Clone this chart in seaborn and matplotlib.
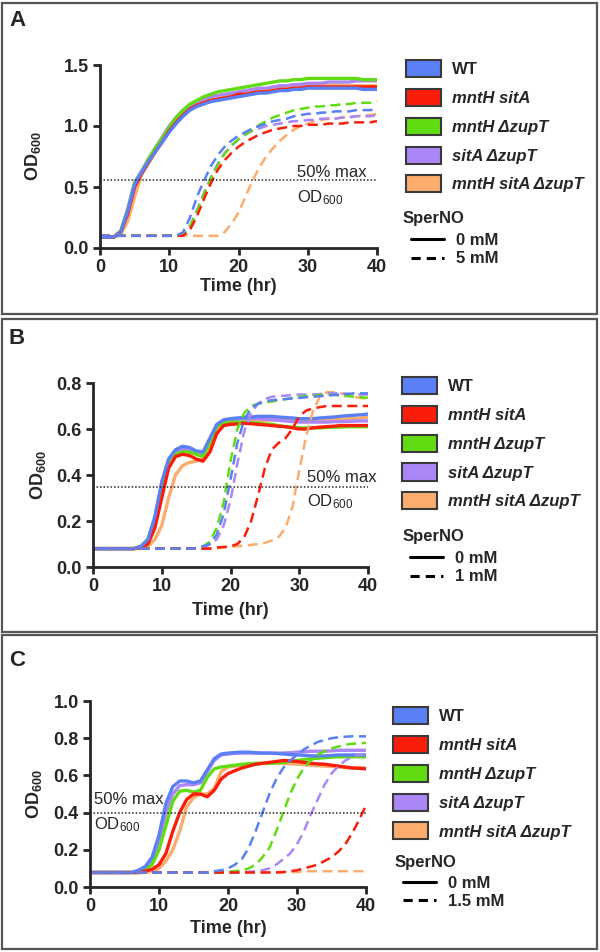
import numpy as np
import pandas as pd
import seaborn as sns
import matplotlib.pyplot as plt
from matplotlib.patches import Patch, Rectangle
from matplotlib.lines import Line2D

sns.set_style("ticks")
plt.rcParams["font.family"] = ["Liberation Sans", "DejaVu Sans"]
plt.rcParams["mathtext.fontset"] = "custom"
plt.rcParams["mathtext.rm"] = "Liberation Sans"
plt.rcParams["mathtext.bf"] = "Liberation Sans:bold"
plt.rcParams["mathtext.it"] = "Liberation Sans:italic"

# strains and colours
strains = ["WT", "mntH sitA", "mntH ΔzupT", "sitA ΔzupT", "mntH sitA ΔzupT"]
colors = ["#5b80f5", "#fa1e0a", "#62dc12", "#aa86f6", "#fcac6c"]
palette = dict(zip(strains, colors))

hours = np.arange(0, 41)  # sampled every hour, 0-40 h

# ---- Panel A: 0 mM / 5 mM SperNO ----
a0_wt = [.09, .09, .09, .13, .30, .52, .62, .71, .79, .87, .95, 1.02, 1.08, 1.13, 1.16, 1.18, 1.20, 1.21, 1.22, 1.23, 1.24,
         1.25, 1.26, 1.27, 1.27, 1.28, 1.29, 1.29, 1.30, 1.30, 1.31, 1.31, 1.31, 1.31, 1.31, 1.31, 1.31, 1.31, 1.30, 1.30, 1.30]
a0_ms = [.09, .09, .09, .13, .28, .50, .61, .70, .79, .87, .96, 1.03, 1.09, 1.14, 1.17, 1.19, 1.21, 1.22, 1.23, 1.24, 1.26,
         1.26, 1.27, 1.28, 1.28, 1.29, 1.30, 1.30, 1.31, 1.31, 1.32, 1.32, 1.32, 1.32, 1.32, 1.32, 1.32, 1.32, 1.32, 1.32, 1.32]
a0_mz = [.09, .09, .09, .14, .31, .53, .62, .73, .82, .90, .99, 1.07, 1.13, 1.18, 1.21, 1.24, 1.26, 1.28, 1.29, 1.30, 1.31,
         1.32, 1.33, 1.34, 1.35, 1.36, 1.37, 1.37, 1.38, 1.38, 1.39, 1.39, 1.39, 1.39, 1.39, 1.39, 1.39, 1.39, 1.38, 1.38, 1.38]
a0_sz = [.09, .09, .09, .14, .32, .54, .63, .73, .82, .91, 1.00, 1.07, 1.13, 1.17, 1.20, 1.22, 1.24, 1.25, 1.26, 1.27, 1.28,
         1.29, 1.30, 1.31, 1.31, 1.32, 1.33, 1.33, 1.34, 1.34, 1.35, 1.35, 1.35, 1.36, 1.36, 1.36, 1.36, 1.37, 1.37, 1.37, 1.37]
a0_msz = [.09, .09, .09, .11, .22, .42, .60, .70, .79, .88, .96, 1.04, 1.10, 1.14, 1.17, 1.20, 1.21, 1.22, 1.24, 1.25, 1.26,
          1.27, 1.28, 1.29, 1.30, 1.30, 1.31, 1.31, 1.32, 1.32, 1.33, 1.33, 1.33, 1.33, 1.33, 1.33, 1.33, 1.33, 1.33, 1.33, 1.33]

a5_wt = [.10, .10, .10, .10, .10, .10, .10, .10, .10, .10, .10, .10, .13, .25, .42, .55, .67, .76, .83, .88, .92,
         .95, .98, 1.00, 1.02, 1.04, 1.05, 1.06, 1.08, 1.09, 1.10, 1.10, 1.11, 1.11, 1.12, 1.12, 1.12, 1.13, 1.13, 1.13, 1.14]
a5_ms = [.10, .10, .10, .10, .10, .10, .10, .10, .10, .10, .10, .10, .10, .15, .26, .40, .53, .64, .72, .78, .83,
         .87, .90, .93, .95, .97, .98, .99, 1.00, 1.00, 1.01, 1.01, 1.01, 1.02, 1.02, 1.02, 1.03, 1.03, 1.03, 1.03, 1.04]
a5_mz = [.10, .10, .10, .10, .10, .10, .10, .10, .10, .10, .10, .10, .11, .18, .30, .44, .57, .68, .77, .84, .89,
         .93, .97, 1.01, 1.04, 1.07, 1.09, 1.11, 1.13, 1.14, 1.15, 1.16, 1.16, 1.17, 1.17, 1.18, 1.18, 1.19, 1.19, 1.19, 1.20]
a5_sz = [.10, .10, .10, .10, .10, .10, .10, .10, .10, .10, .10, .10, .11, .18, .31, .45, .58, .69, .78, .84, .89,
         .93, .96, .98, 1.00, 1.01, 1.02, 1.03, 1.04, 1.04, 1.05, 1.05, 1.06, 1.06, 1.06, 1.07, 1.07, 1.08, 1.08, 1.08, 1.09]
a5_msz = [.10, .10, .10, .10, .10, .10, .10, .10, .10, .10, .10, .10, .10, .10, .10, .10, .10, .10, .13, .20, .29,
          .42, .55, .66, .75, .82, .88, .93, .97, 1.00, 1.02, 1.04, 1.05, 1.06, 1.06, 1.07, 1.08, 1.08, 1.09, 1.09, 1.10]

# ---- Panel B: 0 mM / 1 mM SperNO ----
b0_wt = [.08, .08, .08, .08, .08, .08, .08, .09, .12, .22, .37, .47, .51, .525, .52, .505, .50, .56, .62, .64, .645,
         .648, .65, .652, .655, .655, .655, .652, .65, .648, .645, .645, .645, .648, .65, .652, .655, .658, .66, .662, .665]
b0_ms = [.08, .08, .08, .08, .08, .08, .08, .085, .10, .17, .30, .43, .48, .49, .485, .47, .46, .50, .58, .615, .62,
         .622, .625, .623, .62, .618, .615, .612, .61, .605, .60, .60, .605, .608, .61, .612, .615, .615, .615, .615, .615]
b0_mz = [.08, .08, .08, .08, .08, .08, .08, .09, .12, .21, .35, .45, .49, .50, .50, .49, .48, .54, .61, .625, .63,
         .63, .63, .628, .625, .622, .62, .615, .61, .608, .605, .605, .605, .605, .607, .608, .608, .61, .61, .61, .61]
b0_sz = [.08, .08, .08, .08, .08, .08, .08, .09, .12, .21, .36, .46, .50, .51, .51, .50, .49, .55, .615, .635, .64,
         .642, .645, .645, .645, .643, .64, .638, .635, .632, .63, .63, .63, .63, .63, .632, .632, .633, .634, .635, .635]
b0_msz = [.08, .08, .08, .08, .08, .08, .08, .08, .09, .12, .18, .30, .40, .44, .455, .46, .47, .52, .59, .62, .625,
          .628, .63, .632, .635, .637, .64, .64, .64, .64, .64, .64, .64, .64, .64, .64, .642, .645, .647, .648, .65]

b1_wt = [.08, .08, .08, .08, .08, .08, .08, .08, .08, .08, .08, .08, .08, .08, .08, .08, .09, .10, .14, .23, .38,
         .54, .64, .69, .71, .72, .725, .728, .73, .733, .735, .738, .74, .743, .745, .748, .75, .752, .755, .755, .755]
b1_ms = [.08, .08, .08, .08, .08, .08, .08, .08, .08, .08, .08, .08, .08, .08, .08, .08, .08, .08, .085, .087, .09,
         .10, .13, .20, .31, .43, .51, .54, .56, .60, .655, .68, .69, .695, .70, .70, .70, .70, .70, .70, .70]
b1_mz = [.08, .08, .08, .08, .08, .08, .08, .08, .08, .08, .08, .08, .08, .08, .08, .08, .09, .11, .17, .28, .46,
         .60, .67, .70, .71, .715, .72, .725, .73, .735, .74, .743, .745, .748, .75, .748, .745, .743, .74, .738, .735]
b1_sz = [.08, .08, .08, .08, .08, .08, .08, .08, .08, .08, .08, .08, .08, .08, .08, .08, .08, .10, .12, .18, .29,
         .45, .59, .67, .71, .73, .74, .743, .745, .748, .75, .75, .75, .752, .755, .755, .755, .753, .75, .75, .75]
b1_msz = [.08, .08, .08, .08, .08, .08, .08, .08, .08, .08, .08, .08, .08, .08, .08, .08, .08, .08, .08, .085, .088,
          .09, .093, .096, .10, .105, .115, .13, .17, .26, .42, .57, .68, .74, .76, .76, .755, .75, .74, .735, .73]

# ---- Panel C: 0 mM / 1.5 mM SperNO ----
c0_wt = [.078, .078, .078, .078, .078, .078, .078, .09, .11, .16, .28, .45, .54, .57, .57, .56, .57, .63, .69, .715, .72,
         .723, .725, .725, .722, .72, .72, .718, .715, .712, .71, .708, .705, .705, .705, .707, .71, .71, .71, .71, .71]
c0_ms = [.078, .078, .078, .078, .078, .078, .078, .078, .085, .095, .12, .18, .30, .40, .47, .50, .50, .485, .52, .58, .61,
         .625, .64, .65, .66, .665, .67, .675, .68, .678, .675, .67, .665, .662, .66, .655, .65, .645, .64, .638, .635]
c0_mz = [.078, .078, .078, .078, .078, .078, .078, .078, .09, .12, .20, .33, .46, .515, .52, .51, .52, .59, .635, .645, .65,
         .655, .66, .662, .665, .665, .665, .668, .67, .675, .68, .685, .69, .692, .695, .698, .70, .70, .70, .70, .70]
c0_sz = [.078, .078, .078, .078, .078, .078, .078, .078, .10, .14, .24, .40, .50, .545, .55, .55, .56, .62, .68, .71, .715,
         .718, .72, .72, .72, .72, .72, .72, .72, .722, .725, .727, .73, .73, .73, .732, .735, .735, .735, .735, .735]
c0_msz = [.078, .078, .078, .078, .078, .078, .078, .078, .078, .085, .10, .14, .20, .30, .43, .48, .50, .50, .53, .62, .645,
          .65, .655, .66, .66, .665, .665, .665, .665, .662, .66, .658, .655, .652, .65, .648, .645, .642, .64, .64, .64]

c15_wt = [.078, .078, .078, .078, .078, .078, .078, .078, .078, .078, .078, .078, .078, .078, .078, .078, .078, .078, .085, .09, .10,
          .12, .15, .21, .30, .40, .50, .58, .64, .68, .71, .74, .76, .78, .79, .80, .805, .808, .81, .81, .81]
c15_ms = [.078, .078, .078, .078, .078, .078, .078, .078, .078, .078, .078, .078, .078, .078, .078, .078, .078, .078, .078, .078, .078,
          .078, .078, .078, .078, .078, .078, .078, .08, .085, .09, .10, .11, .12, .14, .16, .19, .23, .29, .36, .44]
c15_mz = [.078, .078, .078, .078, .078, .078, .078, .078, .078, .078, .078, .078, .078, .078, .078, .078, .078, .078, .078, .078, .082,
          .085, .09, .10, .12, .16, .21, .30, .40, .50, .58, .64, .68, .71, .73, .745, .755, .765, .77, .772, .775]
c15_sz = [.078, .078, .078, .078, .078, .078, .078, .078, .078, .078, .078, .078, .078, .078, .078, .078, .078, .078, .078, .078, .078,
          .078, .078, .082, .085, .09, .10, .12, .15, .18, .23, .30, .39, .47, .55, .61, .65, .68, .70, .71, .715]
c15_msz = [.078, .078, .078, .078, .078, .078, .078, .078, .078, .078, .078, .078, .078, .078, .078, .078, .078, .078, .078, .078, .078,
           .08, .08, .08, .08, .08, .08, .08, .08, .08, .08, .085, .085, .085, .085, .085, .085, .085, .085, .085, .085]


def tidy(curves):
    frames = []
    for strain, vals in zip(strains, curves):
        frames.append(pd.DataFrame({"hour": hours, "od": vals, "strain": strain}))
    return pd.concat(frames, ignore_index=True)


panels = [
    dict(label="A", solid=tidy([a0_wt, a0_ms, a0_mz, a0_sz, a0_msz]), dashed=tidy([a5_wt, a5_ms, a5_mz, a5_sz, a5_msz]),
         dose="5 mM", half=0.56, yticks=[0, 0.5, 1.0, 1.5], ymax=1.5,
         rect=[100/600, 1-248/952, 277/600, 183/952], box=(3, 314), txt=(28.4, 0.615, 0.41),
         ylab=-0.205, xlab=-0.165, lab_y=21, leg=(406, 60, 403, 218, 411, 233)),
    dict(label="B", solid=tidy([b0_wt, b0_ms, b0_mz, b0_sz, b0_msz]), dashed=tidy([b1_wt, b1_ms, b1_mz, b1_sz, b1_msz]),
         dose="1 mM", half=0.35, yticks=[0, 0.2, 0.4, 0.6, 0.8], ymax=0.8,
         rect=[93/600, 1-567/952, 275/600, 184/952], box=(319, 632), txt=(31.1, 0.387, 0.283),
         ylab=-0.165, xlab=-0.19, lab_y=338, leg=(402, 377, 403, 537, 410, 551)),
    dict(label="C", solid=tidy([c0_wt, c0_ms, c0_mz, c0_sz, c0_msz]), dashed=tidy([c15_wt, c15_ms, c15_mz, c15_sz, c15_msz]),
         dose="1.5 mM", half=0.40, yticks=[0, 0.2, 0.4, 0.6, 0.8, 1.0], ymax=1.0,
         rect=[90/600, 1-887/952, 276/600, 186/952], box=(635, 949), txt=(0.6, 0.47, 0.335),
         ylab=-0.165, xlab=-0.18, lab_y=660, leg=(393, 707, 395, 862, 403, 876)),
]

fig = plt.figure(figsize=(6, 9.52), dpi=100)
ink = "#262626"

for p in panels:
    ax = fig.add_axes(p["rect"])
    sns.lineplot(data=p["solid"], x="hour", y="od", hue="strain", hue_order=strains[::-1], palette=palette,
                 lw=2.4, legend=False, errorbar=None, ax=ax)
    sns.lineplot(data=p["dashed"], x="hour", y="od", hue="strain", hue_order=strains[::-1], palette=palette,
                 lw=1.8, linestyle=(0, (4, 2.2)), legend=False, errorbar=None, ax=ax)
    ax.axhline(p["half"], color=ink, ls=(0, (1, 1.3)), lw=1.1)

    tx, ty1, ty2 = p["txt"]
    ax.text(tx, ty1, "50% max", fontsize=12, color=ink, va="center", ha="left")
    ax.text(tx, ty2, r"OD$_{\mathrm{600}}$", fontsize=12, color=ink, va="center", ha="left")

    ax.set_xlim(0, 40)
    ax.set_ylim(0, p["ymax"])
    ax.set_xticks([0, 10, 20, 30, 40])
    ax.set_yticks(p["yticks"])
    ax.set_yticklabels([f"{v:.1f}" for v in p["yticks"]])
    sns.despine(ax=ax)
    for s in ["left", "bottom"]:
        ax.spines[s].set_linewidth(2)
        ax.spines[s].set_color(ink)
    ax.tick_params(width=2, length=5, color=ink, labelsize=13, labelcolor=ink, pad=3)
    for t in ax.get_xticklabels() + ax.get_yticklabels():
        t.set_fontweight("bold")
    ax.set_xlabel("Time (hr)", fontsize=13, fontweight="bold", color=ink)
    ax.set_ylabel(r"$\mathbf{OD_{600}}$", fontsize=13, color=ink)
    ax.xaxis.set_label_coords(0.5, p["xlab"])
    ax.yaxis.set_label_coords(p["ylab"], 0.5)

    # panel frame and letter
    y0, y1 = p["box"]
    fig.add_artist(Rectangle((2/600, 1-y1/952), 595/600, (y1-y0)/952, transform=fig.transFigure,
                             fill=False, ec="#555555", lw=1.6))
    fig.text(9/600, 1-p["lab_y"]/952, p["label"], fontsize=16, fontweight="bold", color=ink, va="center")

    # strain legend
    lx, ly, sx, sy, dx, dy = p["leg"]
    handles = [Patch(facecolor=c, edgecolor="#3a3a3a", lw=1.5) for c in colors]
    leg = fig.legend(handles, strains, loc="upper left", bbox_to_anchor=(lx/600, 1-ly/952), frameon=False,
                     borderpad=0, borderaxespad=0, handlelength=2.1, handleheight=1.2, handletextpad=0.65,
                     labelspacing=0.7, prop={"size": 12, "weight": "bold"})
    for i, t in enumerate(leg.get_texts()):
        t.set_color(ink)
        if i > 0:
            t.set_fontstyle("italic")

    fig.text(sx/600, 1-sy/952, "SperNO", fontsize=12, fontweight="bold", color=ink, va="center")
    lines = [Line2D([], [], color="black", lw=2.2),
             Line2D([], [], color="black", lw=2.2, ls=(0, (3, 2)))]
    leg2 = fig.legend(lines, ["0 mM", p["dose"]], loc="upper left", bbox_to_anchor=(dx/600, 1-dy/952),
                      frameon=False, borderpad=0, borderaxespad=0, handlelength=2.0, handletextpad=0.7,
                      labelspacing=0.2, prop={"size": 12, "weight": "bold"})
    for t in leg2.get_texts():
        t.set_color(ink)

fig.savefig("out.png", dpi=100)
